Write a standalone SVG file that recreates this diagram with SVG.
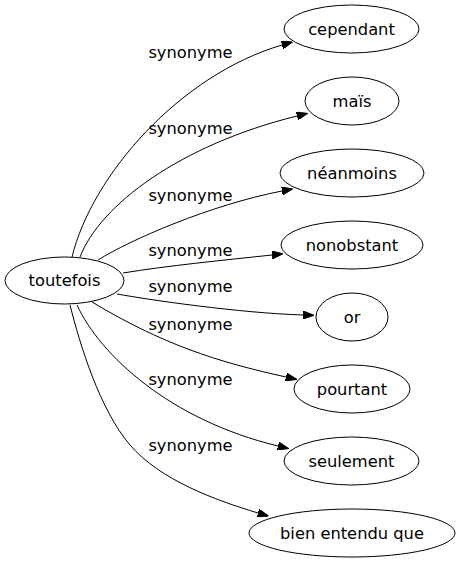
<svg xmlns="http://www.w3.org/2000/svg" width="460" height="563" viewBox="0 0 460 563">
<style>
  .node ellipse { fill: #ffffff; stroke: #000000; stroke-width: 1; }
  .node text { font-family: "DejaVu Sans", Verdana, sans-serif; font-size: 16.3px; fill: #000000; text-anchor: middle; }
  .edge path { fill: none; stroke: #000000; stroke-width: 1; marker-end: url(#arrow); }
  .edge text { font-family: "DejaVu Sans", Verdana, sans-serif; font-size: 16.3px; fill: #000000; text-anchor: middle; }
</style>
<defs>
  <marker id="arrow" viewBox="0 0 11 8" refX="0" refY="4" markerWidth="11" markerHeight="8" markerUnits="userSpaceOnUse" orient="auto">
    <polygon points="0,0 11,4 0,8" fill="#000000" stroke="#000000" stroke-width="1"/>
  </marker>
</defs>
<rect x="0" y="0" width="460" height="563" fill="#ffffff"/>
<g id="edges">
  <g class="edge" id="e1"><path d="M72,257 C92,175 180,75 282,45"/><text x="190.5" y="58">synonyme</text></g>
  <g class="edge" id="e2"><path d="M80,257 C100,205 180,145 297,116"/><text x="190.5" y="133.5">synonyme</text></g>
  <g class="edge" id="e3"><path d="M98,260 C130,240 210,205 282,191"/><text x="190.5" y="201">synonyme</text></g>
  <g class="edge" id="e4"><path d="M123,273 C165,266 225,260 272,255"/><text x="190.5" y="255.5">synonyme</text></g>
  <g class="edge" id="e5"><path d="M117,294 C150,300 240,313 303,315"/><text x="190.5" y="292">synonyme</text></g>
  <g class="edge" id="e6"><path d="M92,302 C162,344 216,361.6 286,377"/><text x="190.5" y="329.5">synonyme</text></g>
  <g class="edge" id="e7"><path d="M77,305 C100,355 170,420 278,446"/><text x="190.5" y="384.5">synonyme</text></g>
  <g class="edge" id="e8"><path d="M70,305 C80,345 100,410 130,445 C160,480 215,500 258,513"/><text x="190.5" y="451">synonyme</text></g>
</g>
<g class="node" id="n-toutefois"><ellipse cx="64.5" cy="280.5" rx="59.5" ry="23.5"/><text x="64.5" y="286">toutefois</text></g>
<g class="node" id="n-cependant"><ellipse cx="351.5" cy="29" rx="67.5" ry="24"/><text x="351.5" y="34.5">cependant</text></g>
<g class="node" id="n-mais"><ellipse cx="352" cy="101" rx="47" ry="24"/><text x="352" y="106.5">maïs</text></g>
<g class="node" id="n-neanmoins"><ellipse cx="352" cy="173" rx="72" ry="24"/><text x="352" y="178.5">néanmoins</text></g>
<g class="node" id="n-nonobstant"><ellipse cx="352" cy="245" rx="71" ry="24"/><text x="352" y="250.5">nonobstant</text></g>
<g class="node" id="n-or"><ellipse cx="352" cy="317" rx="36" ry="24"/><text x="352" y="322.5">or</text></g>
<g class="node" id="n-pourtant"><ellipse cx="352" cy="389" rx="58" ry="24"/><text x="352" y="394.5">pourtant</text></g>
<g class="node" id="n-seulement"><ellipse cx="351.5" cy="461" rx="67.5" ry="24"/><text x="351.5" y="466.5">seulement</text></g>
<g class="node" id="n-bien-entendu-que"><ellipse cx="352" cy="533" rx="103" ry="24"/><text x="352" y="538.5">bien entendu que</text></g>
</svg>
